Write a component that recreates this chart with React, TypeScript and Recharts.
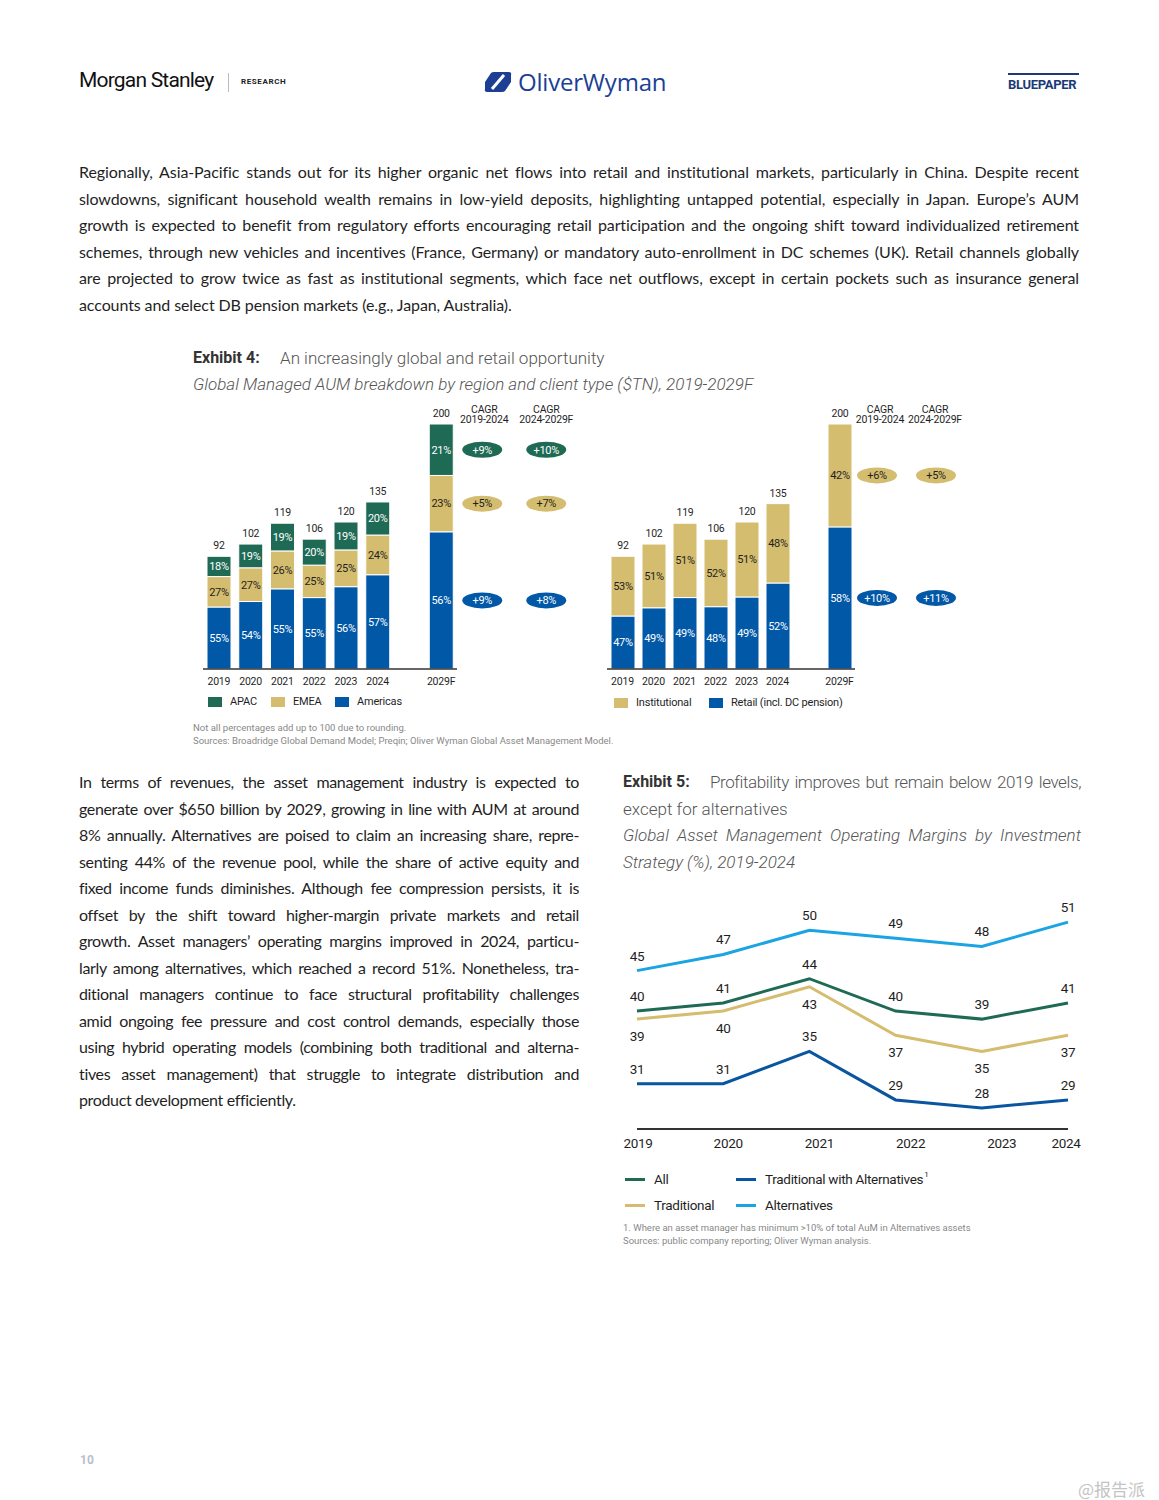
import React from 'react';
import { BarChart, Bar, XAxis, YAxis, LabelList, LineChart, Line } from 'recharts';

// ── Palette / fonts ─────────────────────────────────────────
const GREEN = '#1e6a55';
const GOLD = '#d4bd6e';
const BLUE = '#0058a7';
const TWA_BLUE = '#0a55a0';
const ALT_BLUE = '#1ba4e2';
const INK = '#1f1f1f';
const SANS = "Roboto, 'Noto Sans', sans-serif";
const BODY = "Lato, 'Open Sans', sans-serif";

// ── Exhibit 4 data ──────────────────────────────────────────
const PERIODS = ['2019', '2020', '2021', '2022', '2023', '2024', ' ', '2029F'];
const TOTALS = [92, 102, 119, 106, 120, 135, null, 200];
const AMERICAS_SHARE = [55, 54, 55, 55, 56, 57, null, 56];
const EMEA_SHARE = [27, 27, 26, 25, 25, 24, null, 23];
const APAC_SHARE = [18, 19, 19, 20, 19, 20, null, 21];
const RETAIL_SHARE = [47, 49, 49, 48, 49, 52, null, 58];
const INSTITUTIONAL_SHARE = [53, 51, 51, 52, 51, 48, null, 42];
// CAGR pills: [2019-2024, 2024-2029F]
const APAC_CAGR = ['+9%', '+10%'];
const EMEA_CAGR = ['+5%', '+7%'];
const AMERICAS_CAGR = ['+9%', '+8%'];
const INSTITUTIONAL_CAGR = ['+6%', '+5%'];
const RETAIL_CAGR = ['+10%', '+11%'];
const CAGR_HEADS = ['2019-2024', '2024-2029F'];
const FORECAST = '2029F';

// ── Exhibit 5 data ──────────────────────────────────────────
const MARGIN_YEARS = ['2019', '2020', '2021', '2022', '2023', '2024'];
const ALL = [40, 41, 44, 40, 39, 41];
const TRADITIONAL = [39, 40, 43, 37, 35, 37];
const TRAD_WITH_ALTS = [31, 31, 35, 29, 28, 29];
const ALTERNATIVES = [45, 47, 50, 49, 48, 51];
const TICK_NUDGE = [1, 5, 10, 15, 20, -2];

const seg = (i: number, share: (number | null)[]) =>
  TOTALS[i] == null || share[i] == null ? null : (TOTALS[i] as number) * (share[i] as number) / 100;

// pill / header text only lives on the forecast bar
const onForecast = (p: string, list: string[]) => (p === FORECAST ? list.join('|') : null);

const regionData = PERIODS.map((p, i) => ({
  period: p, total: TOTALS[i], head: onForecast(p, CAGR_HEADS),
  americas: seg(i, AMERICAS_SHARE), emea: seg(i, EMEA_SHARE), apac: seg(i, APAC_SHARE),
  americasPct: AMERICAS_SHARE[i], emeaPct: EMEA_SHARE[i], apacPct: APAC_SHARE[i],
  americasCagr: onForecast(p, AMERICAS_CAGR), emeaCagr: onForecast(p, EMEA_CAGR), apacCagr: onForecast(p, APAC_CAGR),
}));

const clientData = PERIODS.map((p, i) => ({
  period: p, total: TOTALS[i], head: onForecast(p, CAGR_HEADS),
  retail: seg(i, RETAIL_SHARE), inst: seg(i, INSTITUTIONAL_SHARE),
  retailPct: RETAIL_SHARE[i], instPct: INSTITUTIONAL_SHARE[i],
  retailCagr: onForecast(p, RETAIL_CAGR), instCagr: onForecast(p, INSTITUTIONAL_CAGR),
}));

const marginData = MARGIN_YEARS.map((y, i) => ({
  year: y, all: ALL[i], trad: TRADITIONAL[i], twa: TRAD_WITH_ALTS[i], alt: ALTERNATIVES[i],
}));

// ── Stacked AUM chart ───────────────────────────────────────
interface SeriesDef { key: string; color: string; text: string }

const BarTick = (props: any) => (
  <text x={props.x} y={props.y + 16} textAnchor="middle" fontSize={10.5} fill={INK}
    fontFamily={SANS} letterSpacing={-0.2}>{props.payload.value}</text>
);

const pctLabel = (s: SeriesDef) => (props: any) => {
  const { x, y, width, height, value } = props;
  if (value == null) return null;
  return (
    <text x={x + width / 2} y={y + height / 2} dy="0.35em" textAnchor="middle" fontSize={11} fill={s.text}
      fontFamily={SANS} letterSpacing={-0.3}>{value}%</text>
  );
};

const pillLabel = (s: SeriesDef, pillDx: number[]) => (props: any) => {
  const { x, y, width, height, value } = props;
  if (value == null || value === '') return null;
  const cx = x + width / 2;
  const cy = y + height / 2;
  return (
    <g>
      {String(value).split('|').map((c, k) => (
        <g key={k}>
          <ellipse cx={cx + pillDx[k]} cy={cy} rx={20} ry={8} fill={s.color} />
          <text x={cx + pillDx[k]} y={cy} dy="0.35em" textAnchor="middle" fontSize={11}
            fill={s.text} fontFamily={SANS} letterSpacing={-0.3}>{c}</text>
        </g>
      ))}
    </g>
  );
};

const totalLabel = (props: any) => {
  const { x, y, width, value } = props;
  if (value == null) return null;
  return (
    <text x={x + width / 2} y={y - 7} textAnchor="middle" fontFamily={SANS} fontSize={10.5}
      fill={INK} letterSpacing={-0.2}>{value}</text>
  );
};

const headLabel = (headDx: number[]) => (props: any) => {
  const { x, y, width, value } = props;
  if (value == null || value === '') return null;
  const cx = x + width / 2;
  return (
    <g fontFamily={SANS} fontSize={10.5} fill={INK} letterSpacing={-0.2}>
      {String(value).split('|').map((h, k) => (
        <g key={k}>
          <text x={cx + headDx[k]} y={y - 11} textAnchor="middle">CAGR</text>
          <text x={cx + headDx[k]} y={y - 1} textAnchor="middle">{h}</text>
        </g>
      ))}
    </g>
  );
};

function AumChart({ data, series, width, marginLeft, plotWidth, pillDx, headDx }: {
  data: any[]; series: SeriesDef[]; width: number; marginLeft: number; plotWidth: number;
  pillDx: number[]; headDx: number[];
}) {
  return (
    <BarChart width={width} height={300} data={data} barSize={24}
      margin={{ top: 29, right: width - marginLeft - plotWidth, bottom: 6, left: marginLeft }}>
      <XAxis dataKey="period" height={20} tickLine={false} tickSize={0} tickMargin={0}
        axisLine={{ stroke: '#333', strokeWidth: 1.5 }} tick={<BarTick />} interval={0} />
      <YAxis hide domain={[0, 200]} />
      {series.map((s, i) => (
        <Bar key={s.key} dataKey={s.key} stackId="a" fill={s.color} stroke="#fff" strokeWidth={1}
          isAnimationActive={false}>
          <LabelList dataKey={`${s.key}Pct`} content={pctLabel(s)} />
          <LabelList dataKey={`${s.key}Cagr`} content={pillLabel(s, pillDx)} />
          {i === series.length - 1 && <LabelList dataKey="total" content={totalLabel} />}
          {i === series.length - 1 && <LabelList dataKey="head" content={headLabel(headDx)} />}
        </Bar>
      ))}
    </BarChart>
  );
}

// ── Margin line chart ───────────────────────────────────────
const LineTick = (props: any) => (
  <text x={props.x + TICK_NUDGE[props.index]} y={props.y + 19} textAnchor="middle" fontSize={13.5}
    fill={INK} fontFamily={SANS} letterSpacing={-0.3}>{props.payload.value}</text>
);

const pointLabel = (below: boolean) => (props: any) => (
  <text x={props.x} y={below ? props.y + 22 : props.y - 10} textAnchor="middle" fontSize={13.5}
    fill={INK} fontFamily={SANS} letterSpacing={-0.3}>{props.value}</text>
);

const MARGIN_SERIES = [
  { key: 'alt', name: 'Alternatives', color: ALT_BLUE, below: false },
  { key: 'all', name: 'All', color: GREEN, below: false },
  { key: 'trad', name: 'Traditional', color: GOLD, below: true },
  { key: 'twa', name: 'Traditional with Alternatives', color: TWA_BLUE, below: false },
];

function MarginChart() {
  return (
    <LineChart width={500} height={284} data={marginData}
      margin={{ top: 26, right: 32, bottom: 5, left: 37 }}>
      <XAxis dataKey="year" scale="point" padding={{ left: 0, right: 0 }} height={30}
        tickLine={false} tickSize={0} tickMargin={0} interval={0}
        axisLine={{ stroke: '#333', strokeWidth: 2 }} tick={<LineTick />} />
      <YAxis hide domain={[25.4, 53]} />
      {MARGIN_SERIES.map(s => (
        <Line key={s.key} dataKey={s.key} name={s.name} stroke={s.color} strokeWidth={3}
          dot={false} type="linear" isAnimationActive={false}>
          <LabelList dataKey={s.key} content={pointLabel(s.below)} />
        </Line>
      ))}
    </LineChart>
  );
}

// ── Text helpers ────────────────────────────────────────────
const PARA_1 = [
  'Regionally, Asia-Pacific stands out for its higher organic net flows into retail and institutional markets, particularly in China. Despite recent',
  'slowdowns, significant household wealth remains in low-yield deposits, highlighting untapped potential, especially in Japan. Europe’s AUM',
  'growth is expected to benefit from regulatory efforts encouraging retail participation and the ongoing shift toward individualized retirement',
  'schemes, through new vehicles and incentives (France, Germany) or mandatory auto-enrollment in DC schemes (UK). Retail channels globally',
  'are projected to grow twice as fast as institutional segments, which face net outflows, except in certain pockets such as insurance general',
  'accounts and select DB pension markets (e.g., Japan, Australia).',
];

const PARA_2 = [
  'In terms of revenues, the asset management industry is expected to',
  'generate over $650 billion by 2029, growing in line with AUM at around',
  '8% annually. Alternatives are poised to claim an increasing share, repre-',
  'senting 44% of the revenue pool, while the share of active equity and',
  'fixed income funds diminishes. Although fee compression persists, it is',
  'offset by the shift toward higher-margin private markets and retail',
  'growth. Asset managers’ operating margins improved in 2024, particu-',
  'larly among alternatives, which reached a record 51%. Nonetheless, tra-',
  'ditional managers continue to face structural profitability challenges',
  'amid ongoing fee pressure and cost control demands, especially those',
  'using hybrid operating models (combining both traditional and alterna-',
  'tives asset management) that struggle to integrate distribution and',
  'product development efficiently.',
];

function Paragraph({ lines, left, top, width, spacing }: { lines: string[]; left: number; top: number; width: number; spacing: number }) {
  return (
    <div style={{ position: 'absolute', left, top, width, fontFamily: BODY, fontSize: 16, color: INK, letterSpacing: spacing }}>
      {lines.map((l, i) => {
        const last = i === lines.length - 1;
        return (
          <div key={i} style={{
            height: 26.5, lineHeight: '26.5px', whiteSpace: 'nowrap',
            textAlign: last ? 'left' : 'justify', textAlignLast: last ? 'left' : 'justify',
          }}>{l}</div>
        );
      })}
    </div>
  );
}

const abs = (left: number, top: number, extra: React.CSSProperties = {}): React.CSSProperties => ({
  position: 'absolute', left, top, whiteSpace: 'nowrap', ...extra,
});

const Swatch = ({ left, top, color, label }: { left: number; top: number; color: string; label: string }) => (
  <div style={abs(left, top, { display: 'flex', alignItems: 'center', fontFamily: SANS, fontSize: 11, color: INK, letterSpacing: -0.2 })}>
    <span style={{ width: 14, height: 10, background: color, marginRight: 8 }} />
    {label}
  </div>
);

const LineKey = ({ left, top, color, label, sup }: { left: number; top: number; color: string; label: string; sup?: string }) => (
  <div style={abs(left, top, { display: 'flex', alignItems: 'center', fontFamily: SANS, fontSize: 13.5, color: INK, letterSpacing: -0.3 })}>
    <span style={{ width: 20, height: 3, background: color, marginRight: 9 }} />
    {label}{sup && <span style={{ fontSize: 8, marginLeft: 1, alignSelf: 'flex-start', marginTop: -1 }}>{sup}</span>}
  </div>
);

export default function App() {
  const regionSeries: SeriesDef[] = [
    { key: 'americas', color: BLUE, text: '#fff' },
    { key: 'emea', color: GOLD, text: INK },
    { key: 'apac', color: GREEN, text: '#fff' },
  ];
  const clientSeries: SeriesDef[] = [
    { key: 'retail', color: BLUE, text: '#fff' },
    { key: 'inst', color: GOLD, text: INK },
  ];

  return (
    <div style={{ position: 'absolute', left: 0, top: 0, width: 1159, height: 1500, background: '#fff', overflow: 'hidden' }}>
      {/* header */}
      <div style={abs(79, 68, { fontFamily: SANS, fontSize: 21, color: '#111', letterSpacing: -0.8 })}>Morgan Stanley</div>
      <div style={abs(228, 73, { width: 1, height: 19, background: '#bbb' })} />
      <div style={abs(241, 77, { fontFamily: SANS, fontSize: 8, fontWeight: 700, color: '#222', letterSpacing: 0.6 })}>RESEARCH</div>
      <svg style={abs(482, 70)} width={32} height={24} viewBox="0 0 32 24">
        <path d="M3 12 L9 3 Q10 2 12 2 L27 2 Q30 2 29 5 L29 12 L23 21 Q22 22 20 22 L5 22 Q2 22 3 19 Z" fill="#1c3f94" />
        <line x1={10} y1={19} x2={22} y2={5} stroke="#fff" strokeWidth={3} />
      </svg>
      <div style={abs(518, 65, { fontFamily: "'Open Sans', sans-serif", fontSize: 24, color: '#1c3f94', letterSpacing: -0.2 })}>OliverWyman</div>
      <div style={abs(1008, 73, { width: 71, height: 2, background: '#1c3a78' })} />
      <div style={abs(1008, 77, { fontFamily: SANS, fontSize: 13, fontWeight: 700, color: '#1c3a78', letterSpacing: -0.3 })}>BLUEPAPER</div>

      <Paragraph lines={PARA_1} left={79} top={159} width={1000} spacing={-0.1} />

      {/* Exhibit 4 */}
      <div style={abs(193, 348, { fontFamily: SANS, fontSize: 16, fontWeight: 700, color: '#333' })}>Exhibit 4:</div>
      <div style={abs(280, 348, { fontFamily: SANS, fontSize: 17, fontWeight: 300, color: '#555' })}>An increasingly global and retail opportunity</div>
      <div style={abs(193, 374, { fontFamily: SANS, fontSize: 17, fontWeight: 300, fontStyle: 'italic', color: '#555' })}>Global Managed AUM breakdown by region and client type ($TN), 2019-2029F</div>

      <div style={abs(190, 395)}>
        <AumChart data={regionData} series={regionSeries} width={420} marginLeft={13} plotWidth={254}
          pillDx={[41, 105]} headDx={[43, 105]} />
      </div>
      <div style={abs(596, 395)}>
        <AumChart data={clientData} series={clientSeries} width={400} marginLeft={11} plotWidth={248}
          pillDx={[37, 96]} headDx={[40, 95]} />
      </div>

      <Swatch left={208} top={695} color={GREEN} label="APAC" />
      <Swatch left={271} top={695} color={GOLD} label="EMEA" />
      <Swatch left={335} top={695} color={BLUE} label="Americas" />
      <Swatch left={614} top={696} color={GOLD} label="Institutional" />
      <Swatch left={709} top={696} color={BLUE} label="Retail (incl. DC pension)" />

      <div style={abs(193, 721, { fontFamily: SANS, fontSize: 9.5, color: '#888', lineHeight: '13px' })}>
        Not all percentages add up to 100 due to rounding.<br />
        Sources: Broadridge Global Demand Model; Preqin; Oliver Wyman Global Asset Management Model.
      </div>

      <Paragraph lines={PARA_2} left={79} top={769} width={500} spacing={-0.35} />

      {/* Exhibit 5 */}
      <div style={abs(623, 769, { width: 458, fontFamily: SANS, fontSize: 17, color: '#555', lineHeight: '26.5px' })}>
        <div style={{ display: 'flex' }}>
          <span style={{ width: 87, fontWeight: 700, color: '#333', fontSize: 16 }}>Exhibit 5:</span>
          <span style={{ width: 371, fontWeight: 300, letterSpacing: -0.4, textAlign: 'justify', textAlignLast: 'justify' }}>
            Profitability improves but remain below 2019 levels,</span>
        </div>
        <div style={{ fontWeight: 300 }}>except for alternatives</div>
        <div style={{ fontWeight: 300, fontStyle: 'italic', textAlign: 'justify', textAlignLast: 'justify' }}>
          Global Asset Management Operating Margins by Investment</div>
        <div style={{ fontWeight: 300, fontStyle: 'italic' }}>Strategy (%), 2019-2024</div>
      </div>

      <div style={abs(600, 880)}>
        <MarginChart />
      </div>

      <LineKey left={625} top={1171} color={GREEN} label="All" />
      <LineKey left={736} top={1171} color={TWA_BLUE} label="Traditional with Alternatives" sup="1" />
      <LineKey left={625} top={1197} color={GOLD} label="Traditional" />
      <LineKey left={736} top={1197} color={ALT_BLUE} label="Alternatives" />

      <div style={abs(623, 1221, { fontFamily: SANS, fontSize: 9.5, color: '#888', lineHeight: '13px' })}>
        1. Where an asset manager has minimum &gt;10% of total AuM in Alternatives assets<br />
        Sources: public company reporting; Oliver Wyman analysis.
      </div>

      <div style={abs(80, 1453, { fontFamily: SANS, fontSize: 12, fontWeight: 700, color: '#b8c0cc' })}>10</div>
      <div style={abs(1078, 1476, { fontFamily: "'Noto Sans CJK SC', sans-serif", fontSize: 17, color: '#c4c4c4' })}>@报告派</div>
    </div>
  );
}
